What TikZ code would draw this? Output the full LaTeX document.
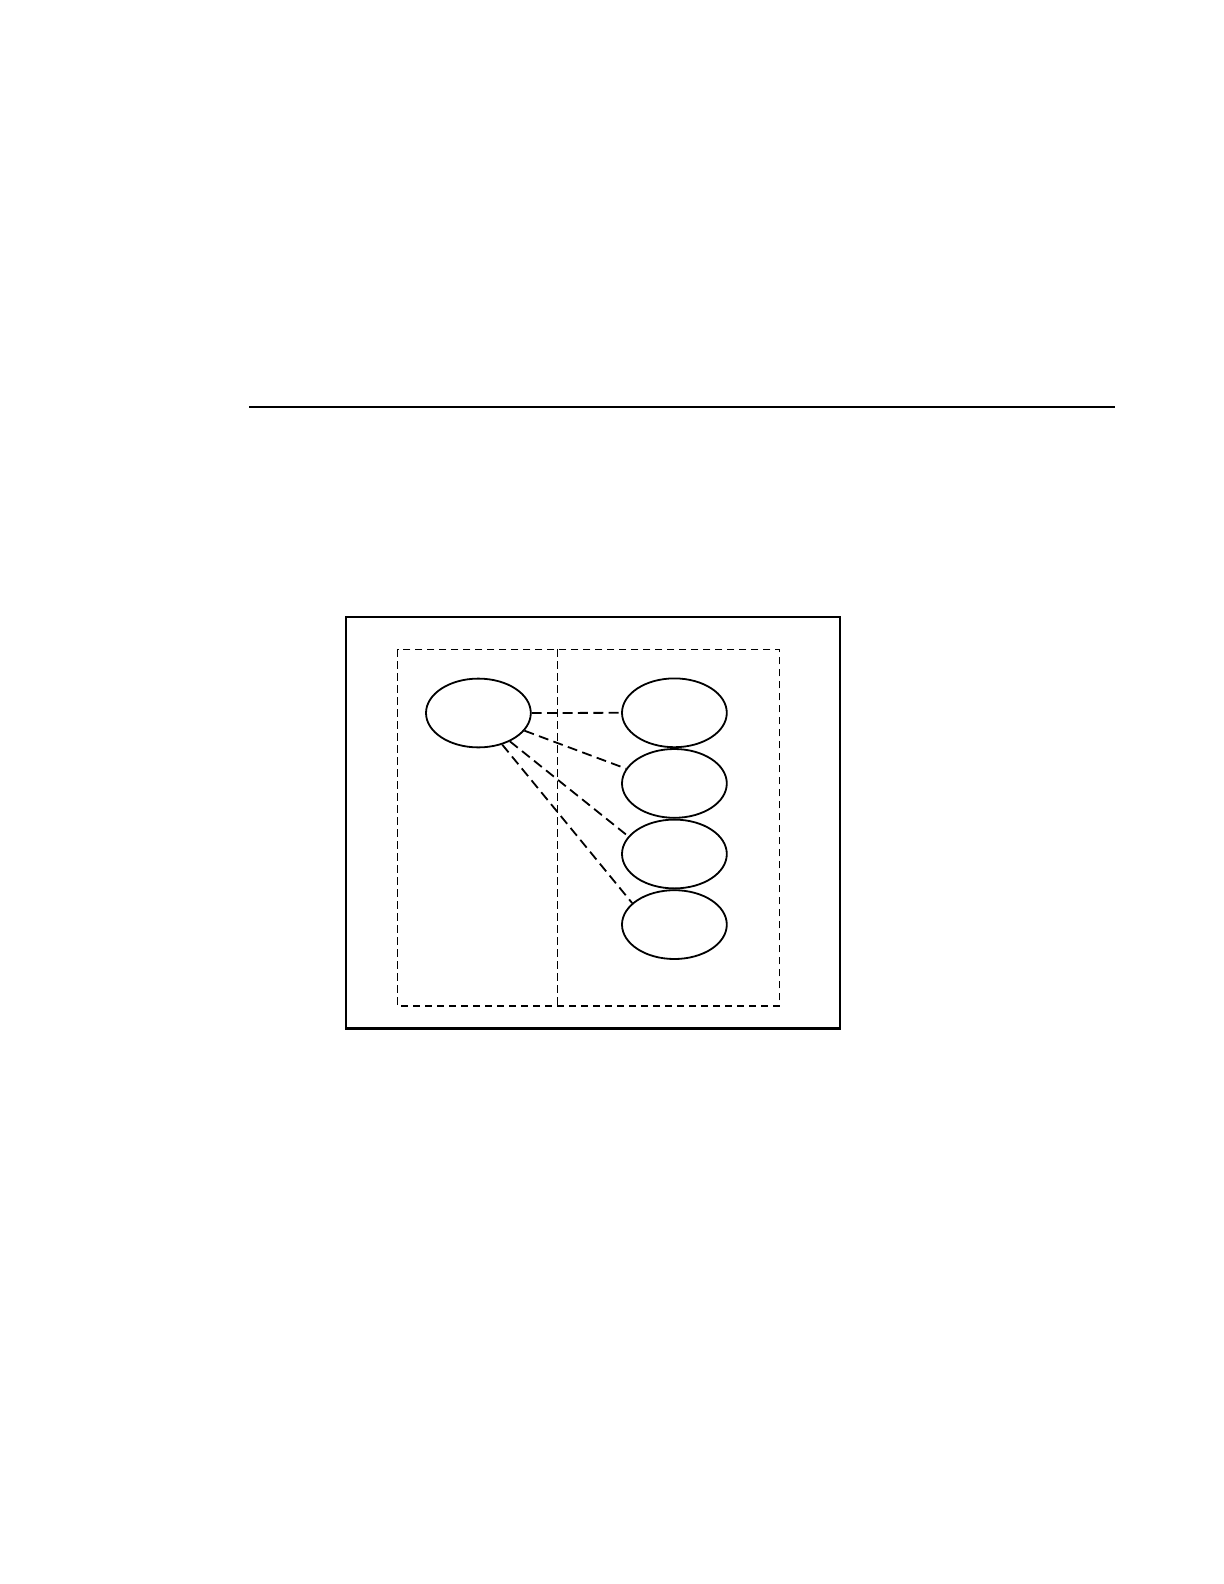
\documentclass[tikz,border=0pt]{standalone}
\usepackage{tikz}
\usetikzlibrary{shapes.geometric, positioning}

\begin{document}
\begin{tikzpicture}[x=1pt, y=1pt,
        bubble/.style={ellipse, draw, line width=0.9pt, minimum width=52.4pt, minimum height=34.4pt, inner sep=0pt},
        link/.style={line width=0.9pt, dash pattern=on 5pt off 2.7pt}]
        \useasboundingbox (0, 0) rectangle (612, -792);
        % Rule
        \draw [line width=0.6pt] (124.5, -203.5) -- (557.5, -203.5);
        % Frame
        \draw [line width=1.1pt] (173, -308.3) rectangle (420, -514.2);
        % Dashed boxes
        \draw [line width=0.55pt, dash pattern=on 3.7pt off 2.3pt] (198.8, -324.7) rectangle (389.7, -503);
        \draw [line width=0.55pt, dash pattern=on 3.7pt off 2.3pt] (278.7, -324.7) -- (278.7, -503);
        % Ellipses
        \node [bubble] (src) at (239.2, -356.5) {};
        \node [bubble] (dstA) at (337.2, -356.4) {};
        \node [bubble, below=0pt of dstA] (dstB) {};
        \node [bubble, below=0pt of dstB] (dstC) {};
        \node [bubble, below=0pt of dstC] (dstD) {};
        % Links
        \draw [link] (src.east) -- (dstA.west);
        \draw [link] (src.-21) -- (dstB.163);
        \draw [link] (src.-42) -- (dstC.159);
        \draw [link] (src.-53) -- (dstD.153);
    \end{tikzpicture}
\end{document}
